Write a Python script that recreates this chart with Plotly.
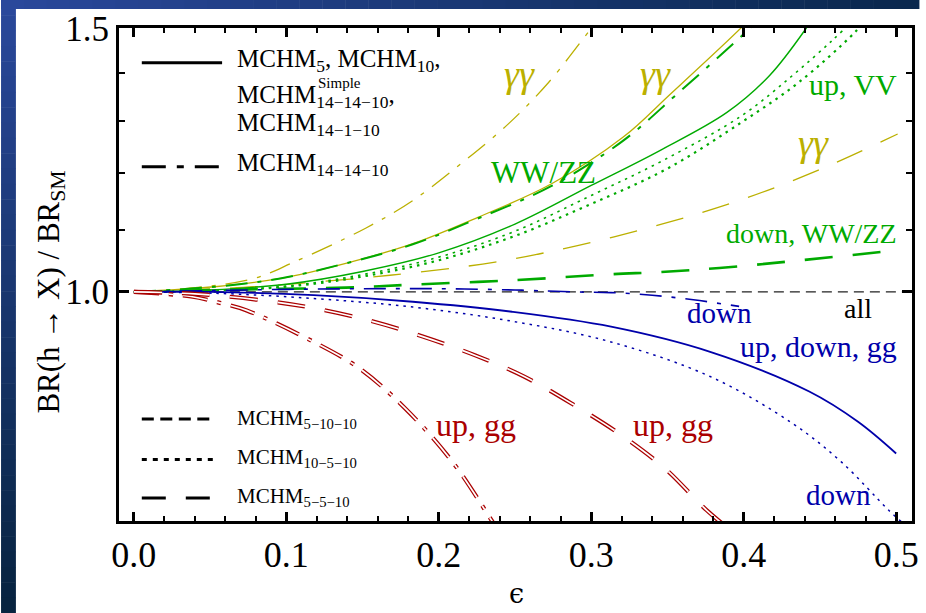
import plotly.graph_objects as go

# ---------------- data ----------------
eps_ticks = [0.0, 0.1, 0.2, 0.3, 0.4, 0.5]
eps_tick_labels = ["0.0", "0.1", "0.2", "0.3", "0.4", "0.5"]
eps_minor = [0.02 * i for i in range(26)]
br_ticks = [1.0, 1.5]
br_tick_labels = ["1.0", "1.5"]
br_minor = [1.1, 1.2, 1.3, 1.4]

# gamma gamma (yellow)
yy_1414_x = [0, 0.042, 0.079, 0.105, 0.152, 0.183, 0.215, 0.246, 0.272, 0.300, 0.31]
yy_1414_y = [1.0, 1.007, 1.021, 1.047, 1.103, 1.151, 1.219, 1.296, 1.380, 1.50, 1.545]
yy_5_x = [0, 0.053, 0.096, 0.139, 0.183, 0.226, 0.274, 0.321, 0.352, 0.398, 0.41]
yy_5_y = [1.0, 1.008, 1.021, 1.045, 1.077, 1.122, 1.181, 1.269, 1.356, 1.50, 1.545]
yy_55_x = [0, 0.079, 0.122, 0.168, 0.237, 0.291, 0.345, 0.397, 0.449, 0.501]
yy_55_y = [1.0, 1.008, 1.016, 1.026, 1.047, 1.074, 1.109, 1.151, 1.206, 1.275]

# WW/ZZ, VV (green)
vv_1414_x = [0, 0.053, 0.096, 0.139, 0.183, 0.226, 0.274, 0.321, 0.356, 0.404, 0.415]
vv_1414_y = [1.0, 1.008, 1.021, 1.045, 1.076, 1.12, 1.177, 1.262, 1.355, 1.50, 1.54]
vv_5_x = [0, 0.05, 0.1, 0.15, 0.2, 0.25, 0.3, 0.345, 0.389, 0.417, 0.441, 0.45]
vv_5_y = [1.0, 1.003, 1.012, 1.032, 1.062, 1.11, 1.178, 1.243, 1.318, 1.395, 1.50, 1.55]
vv_105a_x = [0, 0.05, 0.1, 0.15, 0.2, 0.25, 0.3, 0.347, 0.399, 0.432, 0.458, 0.475]
vv_105a_y = [1.0, 1.002, 1.009, 1.027, 1.055, 1.098, 1.16, 1.224, 1.312, 1.395, 1.472, 1.53]
vv_105b_x = [0, 0.05, 0.1, 0.15, 0.2, 0.25, 0.3, 0.35, 0.399, 0.436, 0.473, 0.485]
vv_105b_y = [1.0, 1.002, 1.008, 1.024, 1.050, 1.09, 1.145, 1.209, 1.299, 1.380, 1.491, 1.54]
vv_55_x = [0, 0.074, 0.139, 0.183, 0.248, 0.313, 0.345, 0.384, 0.438, 0.50]
vv_55_y = [1.0, 1.004, 1.0066, 1.0114, 1.018, 1.0276, 1.031, 1.0375, 1.050, 1.066]

# all channels, MCHM5-10-10
all_x = [0.0, 0.51]
all_y = [1.0, 1.0]

# down / gg (blue)
bl_5_x = [0, 0.05, 0.118, 0.183, 0.248, 0.313, 0.378, 0.443, 0.475, 0.50]
bl_5_y = [1.0, 1.0, 0.995, 0.985, 0.970, 0.948, 0.912, 0.858, 0.819, 0.780]
bl_105_x = [0, 0.053, 0.118, 0.183, 0.248, 0.313, 0.378, 0.432, 0.464, 0.495, 0.505]
bl_105_y = [1.0, 0.998, 0.990, 0.977, 0.956, 0.926, 0.878, 0.817, 0.770, 0.715, 0.70]
bl_1414_x = [0, 0.05, 0.1, 0.15, 0.2, 0.25, 0.29, 0.313, 0.34, 0.367, 0.397]
bl_1414_y = [1.0, 1.002, 1.004, 1.005, 1.005, 1.003, 1.0, 0.999, 0.995, 0.988, 0.978]

# up, gg (red)
rd_1414_x = [0, 0.0375, 0.057, 0.074, 0.118, 0.148, 0.178, 0.209, 0.233, 0.24]
rd_1414_y = [1.0, 0.993, 0.983, 0.972, 0.926, 0.889, 0.836, 0.770, 0.708, 0.69]
rd_55_x = [0, 0.04, 0.085, 0.119, 0.1545, 0.189, 0.224, 0.256, 0.289, 0.320, 0.3485, 0.3756, 0.39]
rd_55_y = [1.0, 0.997, 0.987, 0.975, 0.957, 0.934, 0.907, 0.878, 0.840, 0.802, 0.762, 0.715, 0.695]

# ---------------- styling ----------------
W, H = 926, 613
L, R, T, B = 119, 919, 28, 521
YEL, GRN, BLU, RED, BLK = "#bbb000", "#00aa00", "#0000aa", "#aa0000", "#222222"
SERIF = "Liberation Serif"
D_DASHDOT = "22px,10px,4px,10px"
D_SHORT = "10px,6px"
D_DOT = "2.5px,5px"
D_LONG = "28px,20px"


def px(xp):
    return (xp - L) / (R - L)


def py(yp):
    return (B - yp) / (B - T)


fig = go.Figure()


def add(x, y, color, width, dash, double=False):
    fig.add_trace(go.Scatter(x=x, y=y, mode="lines", showlegend=False, hoverinfo="skip",
                             line=dict(color=color, width=width, dash=dash, shape="spline", smoothing=1.0)))
    if double:
        fig.add_trace(go.Scatter(x=x, y=y, mode="lines", showlegend=False, hoverinfo="skip",
                                 line=dict(color="white", width=width * 0.4, dash=dash, shape="spline", smoothing=1.0)))


add(all_x, all_y, BLK, 1.2, D_SHORT)
add(yy_1414_x, yy_1414_y, YEL, 1.3, D_DASHDOT)
add(yy_5_x, yy_5_y, YEL, 1.3, "solid")
add(yy_55_x, yy_55_y, YEL, 1.3, D_LONG)
add(vv_1414_x, vv_1414_y, GRN, 2.0, D_DASHDOT)
add(vv_5_x, vv_5_y, GRN, 1.4, "solid")
add(vv_105a_x, vv_105a_y, GRN, 1.6, D_DOT)
add(vv_105b_x, vv_105b_y, GRN, 2.2, D_DOT)
add(vv_55_x, vv_55_y, GRN, 2.6, D_LONG)
add(bl_1414_x, bl_1414_y, BLU, 1.6, D_DASHDOT)
add(bl_5_x, bl_5_y, BLU, 1.8, "solid")
add(bl_105_x, bl_105_y, BLU, 1.5, D_DOT)
add(rd_1414_x, rd_1414_y, RED, 4.2, "25px,10px,4px,10px", double=True)
add(rd_55_x, rd_55_y, RED, 4.2, D_LONG, double=True)

shapes = []
# background band (gradient approximated by strips)
def mix(c1, c2, t):
    return "rgb(%d,%d,%d)" % tuple(int(a + (b - a) * t) for a, b in zip(c1, c2))

top_left, bot_left, top_right = (42, 72, 155), (8, 36, 64), (10, 40, 78)
N = 40
for i in range(N):
    y0p, y1p = H * i / N, H * (i + 1) / N
    shapes.append(dict(type="rect", xref="paper", yref="paper", layer="below",
                       x0=px(0), x1=px(15), y0=py(y1p + 0.5), y1=py(y0p),
                       line=dict(width=0), fillcolor=mix(top_left, bot_left, i / (N - 1))))
for i in range(N):
    x0p, x1p = W * i / N, W * (i + 1) / N
    shapes.append(dict(type="rect", xref="paper", yref="paper", layer="below",
                       x0=px(x0p), x1=px(x1p + 0.5), y0=py(9), y1=py(0),
                       line=dict(width=0), fillcolor=mix(top_left, top_right, i / (N - 1))))

# legend samples
def leg_line(x0, x1, yp, dash):
    shapes.append(dict(type="line", xref="paper", yref="paper", x0=px(x0), x1=px(x1),
                       y0=py(yp), y1=py(yp), line=dict(color="black", width=3, dash=dash)))

leg_line(142, 223, 62.7, "solid")
leg_line(142, 223, 166.7, "24px,11px,7px,11px")
leg_line(142, 215, 419, "12px,6.5px")
leg_line(142, 215, 459.5, "5px,6px")
leg_line(142, 215, 498, "24px,20px")

ann = []
def text(s, xp, yp, size, color="black", xanchor="center", angle=0, family=SERIF):
    ann.append(dict(text=s, x=px(xp), y=py(yp), xref="paper", yref="paper", showarrow=False,
                    xanchor=xanchor, yanchor="middle", textangle=angle,
                    font=dict(family=family, size=size, color=color)))

# legend texts
text("MCHM<sub>5</sub>, MCHM<sub>10</sub>,", 236, 61, 25, xanchor="left")
text("MCHM<sub>14\u221214\u221210</sub>,", 236, 96, 25, xanchor="left")
text("Simple", 318, 83, 15, xanchor="left")
text("MCHM<sub>14\u22121\u221210</sub>", 236, 125, 25, xanchor="left")
text("MCHM<sub>14\u221214\u221210</sub>", 236, 164, 25, xanchor="left")
text("MCHM<sub>5\u221210\u221210</sub>", 236, 419, 21, xanchor="left")
text("MCHM<sub>10\u22125\u221210</sub>", 236, 458, 21, xanchor="left")
text("MCHM<sub>5\u22125\u221210</sub>", 236, 497, 21, xanchor="left")

# curve labels
text("<i>\u03b3\u03b3</i>", 523, 74, 38, YEL)
text("<i>\u03b3\u03b3</i>", 660, 74, 38, YEL)
text("<i>\u03b3\u03b3</i>", 820, 143, 38, YEL)
text("WW/ZZ", 547, 172, 31, GRN)
text("up, VV", 859, 85, 30, GRN)
text("down, WW/ZZ", 818, 234, 28, GRN)
text("down", 725, 313, 29, BLU)
text("all", 865, 308, 28, "black")
text("up, down, gg", 825, 347, 30, BLU)
text("down", 845, 495, 29, BLU)
text("up, gg", 479, 425, 32, RED)
text("up, gg", 678, 425, 32, RED)

# axis titles
text("BR(h \u2192 X) / BR<sub>SM</sub>", 50, 292, 31, angle=-90)
text("\u03f5", 520, 593, 27, family="DejaVu Serif")

fig.update_layout(
    width=W, height=H,
    margin=dict(l=L, r=W - R, t=T, b=H - B, pad=0),
    paper_bgcolor="white", plot_bgcolor="white",
    shapes=shapes, annotations=ann,
    xaxis=dict(range=[(L - 134) / 1538, (R - 134) / 1538], showgrid=False, zeroline=False,
               showline=True, linecolor="black", linewidth=3, mirror="ticks",
               ticks="inside", ticklen=9, tickwidth=2.5, tickcolor="black",
               tickvals=eps_ticks, ticktext=eps_tick_labels,
               tickfont=dict(family=SERIF, size=36, color="black"),
               minor=dict(ticks="inside", ticklen=5, tickwidth=1.8, tickcolor="black",
                          tickmode="array", tickvals=eps_minor, showgrid=False)),
    yaxis=dict(type="log", range=[-0.153, 0.1763], showgrid=False, zeroline=False,
               showline=True, linecolor="black", linewidth=3, mirror="ticks",
               ticks="inside", ticklen=10, tickwidth=2.5, tickcolor="black",
               tickvals=br_ticks, ticktext=br_tick_labels,
               tickfont=dict(family=SERIF, size=35, color="black"),
               minor=dict(ticks="inside", ticklen=6, tickwidth=1.8, tickcolor="black",
                          tickmode="array", tickvals=br_minor, showgrid=False)),
)

fig.write_html("out.html")
